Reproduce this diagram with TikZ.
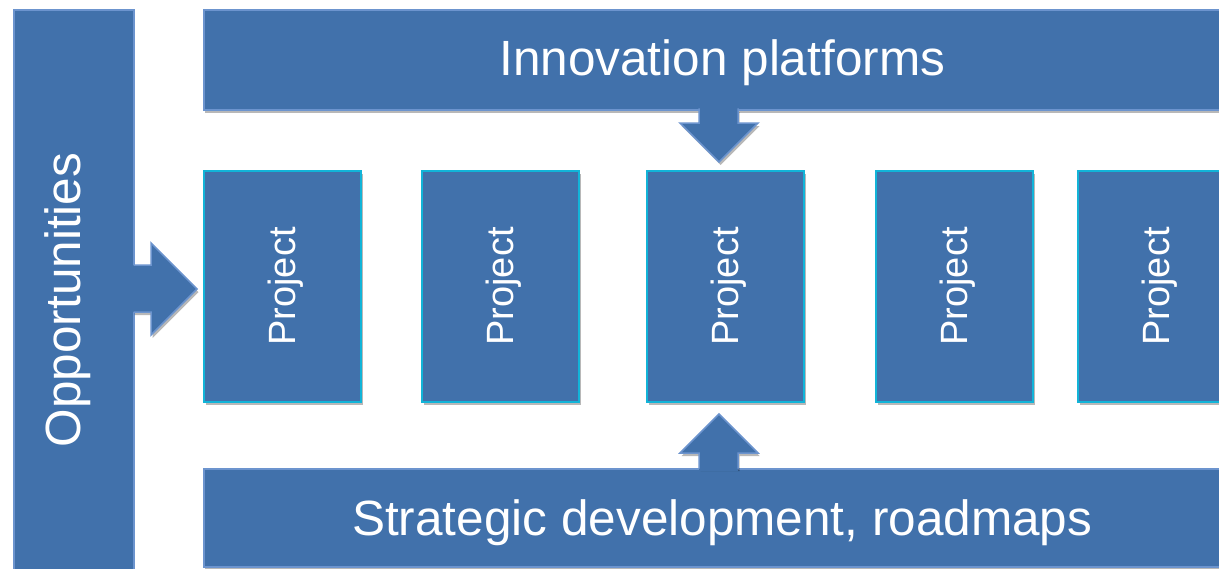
\documentclass[tikz,border=0pt]{standalone}
\usepackage{fontspec}
\setmainfont{Liberation Sans}
\usetikzlibrary{shadows,calc}
\definecolor{fillblue}{RGB}{65,113,171}
\definecolor{edgeblue}{RGB}{108,148,206}
\definecolor{cyanedge}{RGB}{18,180,216}
\begin{document}
\begin{tikzpicture}[x=1pt,y=-1pt,
  shad/.style={drop shadow={shadow xshift=1.5pt, shadow yshift=-3pt, opacity=0.28, fill=black}},
  bar/.style={rectangle, inner sep=0pt, anchor=north west, fill=fillblue, draw=edgeblue, line width=1.5pt, shad},
  project/.style={rectangle, inner sep=0pt, anchor=north west, minimum width=157pt, minimum height=231pt, fill=fillblue, draw=cyanedge, line width=2pt, shad},
  bigtext/.style={text=white, inner sep=0pt, anchor=base, font=\fontsize{49.5}{52}\selectfont},
  projtext/.style={text=white, inner sep=0pt, anchor=base, rotate=90, font=\fontsize{38}{40}\selectfont},
  arrowfill/.style={fill=fillblue, draw=none, shad},
  patch/.style={fill=fillblue, draw=none},
  arrowedge/.style={draw=edgeblue, line width=1.5pt, line join=miter}]
\useasboundingbox (0,0) rectangle (1219,568);
\clip (0,0) rectangle (1219,568);
\fill[white] (0,0) rectangle (1219,568);

% bars
\node[bar, minimum width=120pt, minimum height=590pt] (opp) at (13,9) {};
\node[bar, minimum width=1037pt, minimum height=100pt] (innov) at (203,9) {};
\node[bar, minimum width=1037pt, minimum height=98pt] (strat) at (203,468) {};

\node[bigtext, rotate=90] (opptext) at (80,300) {Opportunities};
\node[bigtext] (innovtext) at ($(innov.north)+(0,66)$) {Innovation platforms};
\node[bigtext] (strattext) at ($(strat.north)+(0,67)$) {Strategic development, roadmaps};

% block arrows
\fill[arrowfill] (133,265) -- (151,265) -- (151,243) -- (197,289) -- (151,335) -- (151,312) -- (133,312) -- cycle;
\fill[patch] (130,265) rectangle (136,312);
\draw[arrowedge] (133.7,265) -- (151,265) -- (151,243) -- (197,289) -- (151,335) -- (151,312) -- (133.7,312);

\fill[arrowfill] (699,109) -- (699,123) -- (680,123) -- (719,162) -- (758,123) -- (738,123) -- (738,109) -- cycle;
\fill[patch] (699,106) rectangle (738,112);
\draw[arrowedge] (699,108.3) -- (699,123) -- (680,123) -- (719,162) -- (758,123) -- (738,123) -- (738,108.3);

\fill[arrowfill] (699,468) -- (699,453) -- (680,453) -- (719,414) -- (758,453) -- (738,453) -- (738,468) -- cycle;
\fill[patch] (699,465) rectangle (738,471);
\draw[arrowedge] (699,468.7) -- (699,453) -- (680,453) -- (719,414) -- (758,453) -- (738,453) -- (738,468.7);

% projects
\foreach \x [count=\i] in {203,421,646,875,1077} {
  \node[project] (p\i) at (\x,170) {};
  \node[projtext] (pt\i) at ($(p\i.center)+(13,0)$) {Project};
}
\end{tikzpicture}
\end{document}
